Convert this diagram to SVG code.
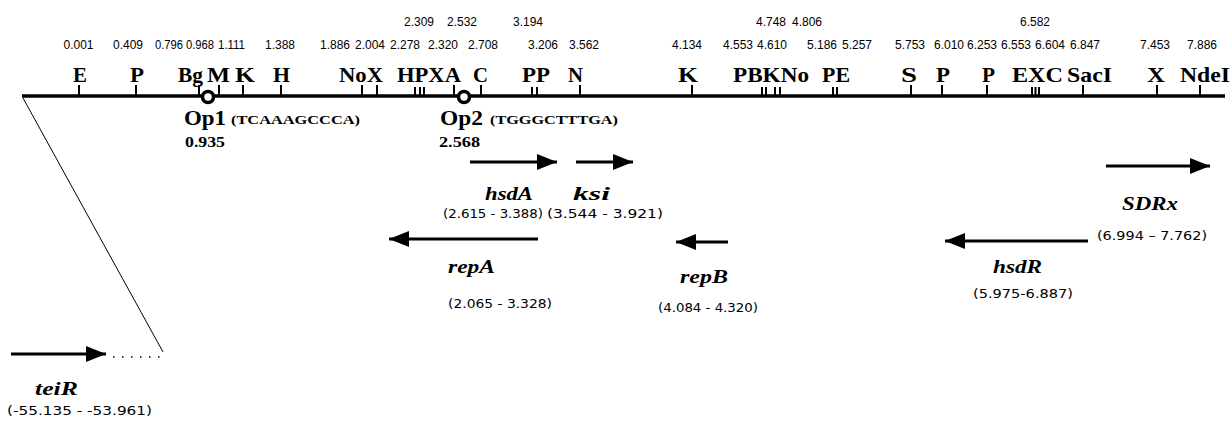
<svg xmlns="http://www.w3.org/2000/svg" width="1231" height="423" viewBox="0 0 1231 423">
<defs>
<style>
.num{font-family:"Liberation Sans",Arial,sans-serif;font-size:12px;fill:#000;text-anchor:middle}
.site{font-family:"Liberation Serif","Times New Roman",serif;font-size:21px;font-weight:bold;fill:#000}
.op{font-family:"Liberation Serif","Times New Roman",serif;font-size:21px;font-weight:bold;fill:#000}
.seq{font-family:"Liberation Serif","Times New Roman",serif;font-size:12px;font-weight:bold;fill:#000}
.pos{font-family:"Liberation Serif","Times New Roman",serif;font-size:14px;font-weight:bold;fill:#000}
.gene{font-family:"Liberation Serif","Times New Roman",serif;font-size:19px;font-weight:bold;font-style:italic;fill:#000}
.rng{font-family:"DejaVu Sans","Liberation Sans",sans-serif;font-size:13px;fill:#000}
.tick{stroke:#000;stroke-width:2}
.arr{stroke:#000;stroke-width:3;fill:none}
</style>
<marker id="ah" viewBox="0 0 10 8" refX="10" refY="4" markerWidth="22" markerHeight="16" markerUnits="userSpaceOnUse" orient="auto">
<path d="M0,0 L10,4 L0,8 Z" fill="#000"/>
</marker>
</defs>
<rect width="1231" height="423" fill="#fff"/>

<g id="numbers">
<text class="num" x="419" y="26">2.309</text>
<text class="num" x="462" y="26">2.532</text>
<text class="num" x="528" y="26">3.194</text>
<text class="num" x="771" y="26">4.748</text>
<text class="num" x="807" y="26">4.806</text>
<text class="num" x="1035" y="26">6.582</text>
<text class="num" x="78.5" y="49">0.001</text>
<text class="num" x="128" y="49">0.409</text>
<text class="num" x="169" y="49" textLength="28" lengthAdjust="spacingAndGlyphs">0.796</text>
<text class="num" x="200" y="49" textLength="28" lengthAdjust="spacingAndGlyphs">0.968</text>
<text class="num" x="231.5" y="49" textLength="27" lengthAdjust="spacingAndGlyphs">1.111</text>
<text class="num" x="280" y="49">1.388</text>
<text class="num" x="335" y="49">1.886</text>
<text class="num" x="370" y="49">2.004</text>
<text class="num" x="405" y="49">2.278</text>
<text class="num" x="443" y="49">2.320</text>
<text class="num" x="483" y="49">2.708</text>
<text class="num" x="543" y="49">3.206</text>
<text class="num" x="584" y="49">3.562</text>
<text class="num" x="687" y="49">4.134</text>
<text class="num" x="738" y="49">4.553</text>
<text class="num" x="772" y="49">4.610</text>
<text class="num" x="822" y="49">5.186</text>
<text class="num" x="857" y="49">5.257</text>
<text class="num" x="910" y="49">5.753</text>
<text class="num" x="949" y="49">6.010</text>
<text class="num" x="982" y="49">6.253</text>
<text class="num" x="1016" y="49">6.553</text>
<text class="num" x="1050" y="49">6.604</text>
<text class="num" x="1085" y="49">6.847</text>
<text class="num" x="1155" y="49">7.453</text>
<text class="num" x="1202" y="49">7.886</text>
</g>

<g id="sites">
<text class="site" x="73" y="82" textLength="14" lengthAdjust="spacingAndGlyphs">E</text>
<text class="site" x="130" y="82" textLength="14" lengthAdjust="spacingAndGlyphs">P</text>
<text class="site" x="178" y="82" textLength="25" lengthAdjust="spacingAndGlyphs">Bg</text>
<text class="site" x="207" y="82" textLength="23" lengthAdjust="spacingAndGlyphs">M</text>
<text class="site" x="235" y="82" textLength="20" lengthAdjust="spacingAndGlyphs">K</text>
<text class="site" x="273" y="82" textLength="17" lengthAdjust="spacingAndGlyphs">H</text>
<text class="site" x="339" y="82" textLength="44" lengthAdjust="spacingAndGlyphs">NoX</text>
<text class="site" x="397" y="82" textLength="64" lengthAdjust="spacingAndGlyphs">HPXA</text>
<text class="site" x="473" y="82" textLength="15" lengthAdjust="spacingAndGlyphs">C</text>
<text class="site" x="522" y="82" textLength="28" lengthAdjust="spacingAndGlyphs">PP</text>
<text class="site" x="568" y="82" textLength="15" lengthAdjust="spacingAndGlyphs">N</text>
<text class="site" x="678" y="82" textLength="20" lengthAdjust="spacingAndGlyphs">K</text>
<text class="site" x="733" y="82" textLength="76" lengthAdjust="spacingAndGlyphs">PBKNo</text>
<text class="site" x="822" y="82" textLength="28" lengthAdjust="spacingAndGlyphs">PE</text>
<text class="site" x="901" y="82" textLength="16" lengthAdjust="spacingAndGlyphs">S</text>
<text class="site" x="936" y="82" textLength="14" lengthAdjust="spacingAndGlyphs">P</text>
<text class="site" x="982" y="82" textLength="13" lengthAdjust="spacingAndGlyphs">P</text>
<text class="site" x="1012" y="82" textLength="51" lengthAdjust="spacingAndGlyphs">EXC</text>
<text class="site" x="1067" y="82" textLength="45" lengthAdjust="spacingAndGlyphs">SacI</text>
<text class="site" x="1147" y="82" textLength="18" lengthAdjust="spacingAndGlyphs">X</text>
<text class="site" x="1180" y="82" textLength="50" lengthAdjust="spacingAndGlyphs">NdeI</text>
</g>

<g id="map">
<line x1="22" y1="96" x2="1225" y2="96" stroke="#000" stroke-width="3.5"/>
<g class="tick">
<line x1="79" y1="85" x2="79" y2="96"/>
<line x1="136" y1="85" x2="136" y2="96"/>
<line x1="199" y1="85" x2="199" y2="96"/>
<line x1="219" y1="85" x2="219" y2="96"/>
<line x1="243" y1="85" x2="243" y2="96"/>
<line x1="281" y1="85" x2="281" y2="96"/>
<line x1="362" y1="85" x2="362" y2="96"/>
<line x1="377" y1="85" x2="377" y2="96"/>
<line x1="415" y1="87" x2="415" y2="96"/>
<line x1="420" y1="87" x2="420" y2="96"/>
<line x1="424" y1="87" x2="424" y2="96"/>
<line x1="454" y1="85" x2="454" y2="96"/>
<line x1="481" y1="85" x2="481" y2="96"/>
<line x1="532" y1="87" x2="532" y2="96"/>
<line x1="537" y1="87" x2="537" y2="96"/>
<line x1="580" y1="85" x2="580" y2="96"/>
<line x1="692" y1="85" x2="692" y2="96"/>
<line x1="762" y1="87" x2="762" y2="96"/>
<line x1="766" y1="87" x2="766" y2="96"/>
<line x1="775" y1="87" x2="775" y2="96"/>
<line x1="780" y1="87" x2="780" y2="96"/>
<line x1="833" y1="87" x2="833" y2="96"/>
<line x1="837" y1="87" x2="837" y2="96"/>
<line x1="911" y1="85" x2="911" y2="96"/>
<line x1="942" y1="85" x2="942" y2="96"/>
<line x1="987" y1="85" x2="987" y2="96"/>
<line x1="1032" y1="87" x2="1032" y2="96"/>
<line x1="1035.5" y1="87" x2="1035.5" y2="96"/>
<line x1="1039" y1="87" x2="1039" y2="96"/>
<line x1="1083" y1="85" x2="1083" y2="96"/>
<line x1="1157" y1="85" x2="1157" y2="96"/>
<line x1="1200" y1="85" x2="1200" y2="96"/>
</g>
</g>

<g id="op1">
<circle cx="208" cy="97" r="5.5" fill="#fff" stroke="#000" stroke-width="3.5"/>
<text class="op" x="184" y="125" textLength="42" lengthAdjust="spacingAndGlyphs">Op1</text>
<text class="seq" x="231" y="124" textLength="129" lengthAdjust="spacingAndGlyphs">(TCAAAGCCCA)</text>
<text class="pos" x="185" y="147" textLength="40" lengthAdjust="spacingAndGlyphs">0.935</text>
</g>

<g id="op2">
<circle cx="464" cy="97" r="5.5" fill="#fff" stroke="#000" stroke-width="3.5"/>
<text class="op" x="440" y="125" textLength="43" lengthAdjust="spacingAndGlyphs">Op2</text>
<text class="seq" x="490" y="124" textLength="128" lengthAdjust="spacingAndGlyphs">(TGGGCTTTGA)</text>
<text class="pos" x="439" y="147" textLength="41" lengthAdjust="spacingAndGlyphs">2.568</text>
</g>

<g id="connectors">
<line x1="23" y1="98" x2="163" y2="352" stroke="#000" stroke-width="1"/>
<line x1="113" y1="357" x2="160" y2="357" stroke="#000" stroke-width="1.5" stroke-dasharray="1.5 7.5"/>
</g>

<g id="hsdA">
<line class="arr" x1="470" y1="162" x2="557" y2="162" marker-end="url(#ah)"/>
<text class="gene" x="485" y="200" textLength="48" lengthAdjust="spacingAndGlyphs">hsdA</text>
<text class="rng" x="443" y="218" textLength="100" lengthAdjust="spacingAndGlyphs">(2.615 - 3.388)</text>
</g>

<g id="ksi">
<line class="arr" x1="576" y1="162" x2="633" y2="162" marker-end="url(#ah)"/>
<text class="gene" x="573" y="200" textLength="37" lengthAdjust="spacingAndGlyphs">ksi</text>
<text class="rng" x="547" y="218" textLength="116" lengthAdjust="spacingAndGlyphs">(3.544 - 3.921)</text>
</g>

<g id="repA">
<line class="arr" x1="538" y1="239" x2="389" y2="239" marker-end="url(#ah)"/>
<text class="gene" x="448" y="273" textLength="47" lengthAdjust="spacingAndGlyphs">repA</text>
<text class="rng" x="448" y="308" textLength="104" lengthAdjust="spacingAndGlyphs">(2.065 - 3.328)</text>
</g>

<g id="repB">
<line class="arr" x1="728" y1="242" x2="676" y2="242" marker-end="url(#ah)"/>
<text class="gene" x="680" y="283" textLength="48" lengthAdjust="spacingAndGlyphs">repB</text>
<text class="rng" x="658" y="312" textLength="100" lengthAdjust="spacingAndGlyphs">(4.084 - 4.320)</text>
</g>

<g id="SDRx">
<line class="arr" x1="1106" y1="166" x2="1210" y2="166" marker-end="url(#ah)"/>
<text class="gene" x="1122" y="210" textLength="56" lengthAdjust="spacingAndGlyphs">SDRx</text>
<text class="rng" x="1097" y="240" textLength="110" lengthAdjust="spacingAndGlyphs">(6.994 – 7.762)</text>
</g>

<g id="hsdR">
<line class="arr" x1="1088" y1="241" x2="945" y2="241" marker-end="url(#ah)"/>
<text class="gene" x="993" y="273" textLength="49" lengthAdjust="spacingAndGlyphs">hsdR</text>
<text class="rng" x="973" y="298" textLength="100" lengthAdjust="spacingAndGlyphs">(5.975-6.887)</text>
</g>

<g id="teiR">
<line class="arr" x1="11" y1="354" x2="106" y2="354" marker-end="url(#ah)"/>
<text class="gene" x="35" y="395" textLength="43" lengthAdjust="spacingAndGlyphs">teiR</text>
<text class="rng" x="7" y="415" textLength="145" lengthAdjust="spacingAndGlyphs">(-55.135 - -53.961)</text>
</g>
</svg>
